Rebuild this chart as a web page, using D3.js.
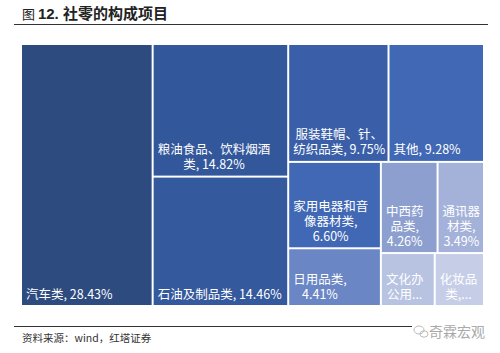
<!DOCTYPE html>
<html>
<head>
<meta charset="utf-8">
<script src="https://cdn.jsdelivr.net/npm/d3@7"></script>
<style>
  html, body { margin: 0; padding: 0; background: #fff; }
  svg { display: block; font-family: "Noto Sans CJK SC", "Noto Sans", sans-serif; }
  .cell-label { fill: #fff; font-size: 12.5px; }
</style>
</head>
<body>
<div id="chart"></div>
<script>
// retail sales composition (share of total, %)
const categories = ['汽车类', '粮油食品、饮料烟酒类', '石油及制品类', '服装鞋帽、针、纺织品类', '其他',
  '家用电器和音像器材类', '日用品类', '中西药品类', '通讯器材类', '文化办公用品类', '化妆品类']
const shares = [28.43, 14.82, 14.46, 9.75, 9.28, 6.60, 4.41, 4.26, 3.49, 2.35, 2.15]
// labels as they appear wrapped / truncated in the cells
const labelLines = [
  ['汽车类, 28.43%'],
  ['粮油食品、饮料烟酒', '类, 14.82%'],
  ['石油及制品类, 14.46%'],
  ['服装鞋帽、针、', '纺织品类, 9.75%'],
  ['其他, 9.28%'],
  ['家用电器和音', '像器材类,', '6.60%'],
  ['日用品类,', '4.41%'],
  ['中西药', '品类,', '4.26%'],
  ['通讯器', '材类,', '3.49%'],
  ['文化办', '公用...'],
  ['化妆品', '类,...'],
]
const colors = ['#2e4b80', '#33579b', '#34599d', '#3a5fa8', '#4068b5',
  '#4168b4', '#6a86c4', '#8d9fcf', '#a4b2d9', '#b8c3e1', '#c6cee7']

const width = 500
const height = 353
const area = { x: 22, y: 45, w: 461, h: 260 }

const svg = d3.select('#chart').append('svg').attr('width', width).attr('height', height)

// title
const title = svg.append('text').attr('x', 22).attr('y', 19).attr('fill', '#222')
title.append('tspan').attr('font-size', 13).text('图 ')
title.append('tspan').attr('font-size', 15).attr('font-weight', 'bold')
  .attr('font-family', 'Liberation Sans, Arial, sans-serif').text('12. ')
title.append('tspan').attr('font-size', 15).attr('font-weight', 'bold').text('社零的构成项目')

svg.append('line').attr('x1', 14).attr('x2', 488).attr('y1', 24.5).attr('y2', 24.5)
  .attr('stroke', '#333').attr('stroke-width', 1)

// treemap
const items = categories.map((name, i) => ({ name, value: shares[i], lines: labelLines[i], color: colors[i] }))
const root = d3.hierarchy({ children: items }).sum((d) => d.value || 0)

d3.treemap()
  .size([area.w, area.h])
  .paddingInner(2)
  .tile(d3.treemapSquarify.ratio(1))(root)

const g = svg.append('g').attr('transform', `translate(${area.x},${area.y})`)

const cell = g.selectAll('g.cell').data(root.leaves()).join('g').attr('class', 'cell')

cell.append('rect')
  .attr('x', (d) => d.x0)
  .attr('y', (d) => d.y0)
  .attr('width', (d) => d.x1 - d.x0)
  .attr('height', (d) => d.y1 - d.y0)
  .attr('fill', (d) => d.data.color)

const lineH = 15
cell.each(function (d) {
  const sel = d3.select(this)
  const lines = d.data.lines
  const txt = sel.append('text').attr('class', 'cell-label').attr('text-anchor', 'middle')
  const spans = lines.map((l) => txt.append('tspan').text(l))
  // block is left aligned in the cell, lines centred within the block
  const blockW = d3.max(spans, (s) => s.node().getComputedTextLength())
  const cx = d.x0 + 4 + blockW / 2
  const lastBase = d.y1 - 6.5
  spans.forEach((s, i) => {
    s.attr('x', cx).attr('y', lastBase - (lines.length - 1 - i) * lineH)
  })
})

// footer
svg.append('line').attr('x1', 14).attr('x2', 412).attr('y1', 326.5).attr('y2', 326.5)
  .attr('stroke', '#333').attr('stroke-width', 1)

svg.append('text').attr('x', 22).attr('y', 342).attr('font-size', 10.5).attr('fill', '#333')
  .text('资料来源：wind，红塔证券')

// watermark
const wm = svg.append('g').attr('fill', 'none').attr('stroke', '#bbb').attr('stroke-width', 1)
wm.append('ellipse').attr('cx', 419).attr('cy', 330).attr('rx', 5).attr('ry', 4)
wm.append('ellipse').attr('cx', 424).attr('cy', 334).attr('rx', 4).attr('ry', 3.2)
svg.append('text').attr('x', 429).attr('y', 337).attr('font-size', 14).attr('fill', '#aaa')
  .text('奇霖宏观')
</script>
</body>
</html>
